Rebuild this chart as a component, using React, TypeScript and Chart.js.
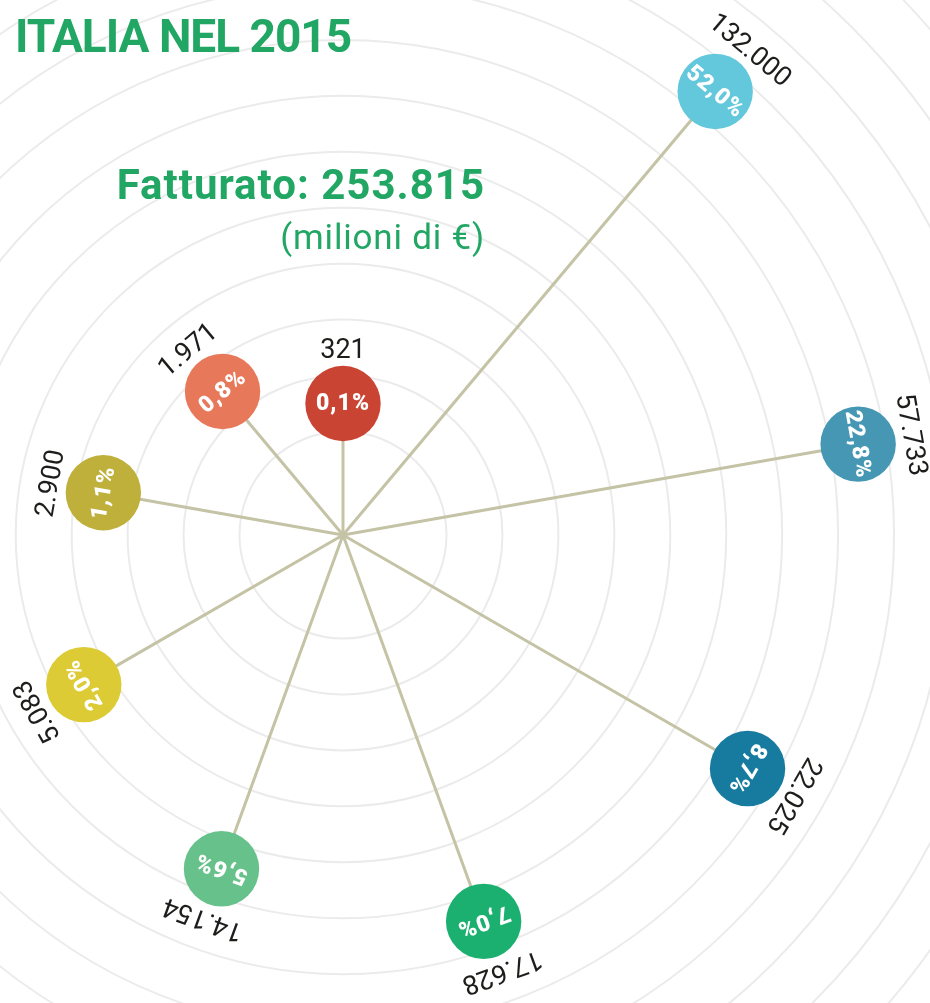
import React, { useEffect, useRef } from "react";
import Chart from "chart.js/auto";

// ---- data ----
// fatturato per segment (milioni di €), in clockwise order starting at the top
const revenue = [321, 132000, 57733, 22025, 17628, 14154, 5083, 2900, 1971];
// share of total (%)
const sharePercent = [0.1, 52.0, 22.8, 8.7, 7.0, 5.6, 2.0, 1.1, 0.8];
// radial position of each dot (rank by size)
const radialRank = [1, 9, 8, 7, 6, 5, 4, 3, 2];
const dotColors = [
  "#c94433",
  "#63c8dc",
  "#4597b3",
  "#167b9e",
  "#1cb070",
  "#67c18a",
  "#dccb35",
  "#bfb03c",
  "#e8785a",
];
// background rings (between ranks)
const ringValues = [0.5, 1.5, 2.5, 3.5, 4.5, 5.5, 6.5, 7.5, 8.5, 9.5, 10.5, 11.5, 12.5];

const TITLE = "ITALIA NEL 2015";
const TOTAL_LABEL = "Fatturato: 253.815";
const UNIT_LABEL = "(milioni di €)";

const GREEN = "#21a664";
const SPOKE = "#c4c3a5";

const fmtThousands = (n: number) => String(n).replace(/\B(?=(\d{3})+(?!\d))/g, ".");
const fmtPct = (p: number) => p.toFixed(1).replace(".", ",") + "%";

const valueLabels = revenue.map(fmtThousands);
const pctLabels = sharePercent.map(fmtPct);

const CANVAS = 1600;
const CENTER_X = 343;
const CENTER_Y = 535;

const spokesPlugin = {
  id: "spokesAndLabels",
  beforeDatasetsDraw(chart: any) {
    const scale = chart.scales.r;
    const meta = chart.getDatasetMeta(0);
    const ctx = chart.ctx as CanvasRenderingContext2D;
    ctx.save();
    ctx.strokeStyle = SPOKE;
    ctx.lineWidth = 3;
    meta.data.forEach((pt: any) => {
      ctx.beginPath();
      ctx.moveTo(scale.xCenter, scale.yCenter);
      ctx.lineTo(pt.x, pt.y);
      ctx.stroke();
    });
    ctx.restore();
  },
  afterDatasetsDraw(chart: any) {
    const scale = chart.scales.r;
    const meta = chart.getDatasetMeta(0);
    const ctx = chart.ctx as CanvasRenderingContext2D;
    meta.data.forEach((pt: any, i: number) => {
      const angle = scale.getIndexAngle(i);
      // percentage inside the dot
      ctx.save();
      ctx.translate(pt.x, pt.y);
      ctx.rotate(angle);
      ctx.fillStyle = "#ffffff";
      ctx.font = "900 23px Roboto";
      (ctx as any).letterSpacing = "1px";
      ctx.textAlign = "center";
      ctx.textBaseline = "middle";
      ctx.fillText(pctLabels[i], 0, 1);
      ctx.restore();
      // value label outside the dot
      const d = scale.getDistanceFromCenterForValue(radialRank[i]) + 46;
      const p = scale.getPointPosition(i, d);
      ctx.save();
      ctx.translate(p.x, p.y);
      ctx.rotate(angle);
      ctx.fillStyle = "#1d1d1b";
      ctx.font = "27px Roboto";
      ctx.textAlign = "center";
      ctx.textBaseline = "alphabetic";
      ctx.fillText(valueLabels[i], 0, 0);
      ctx.restore();
    });
  },
};

export default function App() {
  const ref = useRef<HTMLCanvasElement>(null);
  useEffect(() => {
    if (!ref.current) return;
    const chart = new Chart(ref.current, {
      type: "radar",
      data: {
        labels: valueLabels,
        datasets: [
          {
            data: radialRank,
            showLine: false,
            fill: false,
            borderWidth: 0,
            backgroundColor: "transparent",
            pointRadius: 37.7,
            pointHoverRadius: 37.7,
            pointBackgroundColor: dotColors,
            pointBorderWidth: 0,
            pointHoverBorderWidth: 0,
          },
        ],
      },
      options: {
        responsive: false,
        animation: false,
        events: [],
        layout: { padding: 0 },
        plugins: {
          legend: { display: false },
          tooltip: { enabled: false },
        },
        scales: {
          r: {
            min: -1.35,
            max: 12.95,
            startAngle: 0,
            angleLines: { display: false },
            grid: { circular: true, color: "#ebebeb", lineWidth: 2 },
            ticks: { display: false },
            pointLabels: { display: false },
            afterBuildTicks: (s: any) => {
              s.ticks = ringValues.map((v) => ({ value: v }));
            },
          },
        },
      } as any,
      plugins: [spokesPlugin],
    });
    return () => chart.destroy();
  }, []);

  return (
    <div
      style={{
        position: "fixed",
        left: 0,
        top: 0,
        width: 930,
        height: 1003,
        overflow: "hidden",
        background: "#ffffff",
      }}
    >
      <canvas
        ref={ref}
        width={CANVAS}
        height={CANVAS}
        style={{
          position: "absolute",
          left: CENTER_X - CANVAS / 2,
          top: CENTER_Y - CANVAS / 2,
          width: CANVAS,
          height: CANVAS,
        }}
      />
      <div
        style={{
          position: "absolute",
          left: 15,
          top: 13,
          fontFamily: "Roboto",
          fontWeight: 700,
          fontSize: 46,
          lineHeight: 1,
          letterSpacing: -1,
          color: GREEN,
          whiteSpace: "nowrap",
        }}
      >
        {TITLE}
      </div>
      <div
        style={{
          position: "absolute",
          right: 930 - 485,
          top: 164,
          fontFamily: "Roboto",
          fontWeight: 700,
          fontSize: 42,
          lineHeight: 1,
          letterSpacing: 1,
          color: GREEN,
          whiteSpace: "nowrap",
          textAlign: "right",
        }}
      >
        {TOTAL_LABEL}
      </div>
      <div
        style={{
          position: "absolute",
          right: 930 - 485,
          top: 220,
          fontFamily: "Roboto",
          fontWeight: 400,
          fontSize: 35,
          lineHeight: 1,
          letterSpacing: 0.8,
          color: GREEN,
          whiteSpace: "nowrap",
          textAlign: "right",
        }}
      >
        {UNIT_LABEL}
      </div>
    </div>
  );
}
